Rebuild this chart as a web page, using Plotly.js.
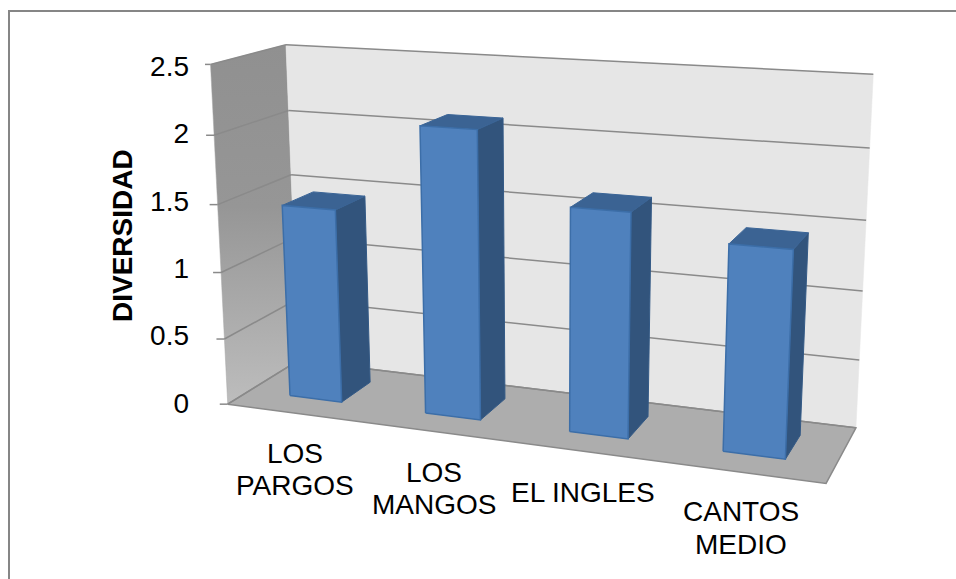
<!DOCTYPE html>
<html>
<head>
<meta charset="utf-8">
<script src="https://cdn.plot.ly/plotly-3.0.1.min.js"></script>
<style>html,body{margin:0;padding:0;background:#fff}#chart{width:956px;height:579px}</style>
</head>
<body>
<div id="chart"></div>
<script>
// Diversity index per site
const categories = ['LOS PARGOS', 'LOS MANGOS', 'EL INGLES', 'CANTOS MEDIO'];
const diversidad = [1.45, 2.1, 1.61, 1.45];
const tickValues = [0, 0.5, 1, 1.5, 2, 2.5];
const tickLabels = ['0', '0.5', '1', '1.5', '2', '2.5'];
const categoryLines = [['LOS', 'PARGOS'], ['LOS', 'MANGOS'], ['EL INGLES'], ['CANTOS', 'MEDIO']];

// Value axis scale: value 0 and 2.5 sit at these page rows
const Y0 = 403, YTOP = 66, WIDTH = 956, HEIGHT = 579, PLOT_LEFT = 205;
const pxPerUnit = (Y0 - YTOP) / 2.5;
const toValue = py => (Y0 - py) / pxPerUnit;

// Camera calibration: box positions [X, value, Z] and where they land on the page
const cameraAnchors = [
  [0, 0, 0, 228, 404], [1, 0, 0, 826, 484], [0, 0, 1, 298, 361], [1, 0, 1, 856, 427],
  [0, 2.5, 0, 210, 65], [0, 2.5, 1, 286, 45], [1, 2.5, 1, 873, 74],
  [0, 2, 1, 289, 110], [0, 1.5, 1, 291, 175], [1, 2, 1, 870, 148], [1, 1.5, 1, 866, 221],
  [1, 1, 1, 863, 291], [1, 0.5, 1, 859, 360], [0, 2, 0, 214, 135], [0, 1.5, 0, 218, 204]
];

function solve(M, r) {
  const n = r.length, m = M.map((row, i) => row.concat(r[i]));
  for (let i = 0; i < n; i++) {
    let p = i;
    for (let k = i + 1; k < n; k++) if (Math.abs(m[k][i]) > Math.abs(m[p][i])) p = k;
    [m[i], m[p]] = [m[p], m[i]];
    for (let k = 0; k < n; k++) {
      if (k === i) continue;
      const f = m[k][i] / m[i][i];
      for (let j = i; j <= n; j++) m[k][j] -= f * m[i][j];
    }
  }
  return m.map((row, i) => row[n] / row[i]);
}

// Least-squares fit of the 3x4 projection matrix (last entry fixed at 1)
function fitCamera(anchors) {
  const rows = [], rhs = [];
  anchors.forEach(([X, v, Z, u, w]) => {
    const Y = v / 2.5;
    rows.push([X, Y, Z, 1, 0, 0, 0, 0, -u * X, -u * Y, -u * Z]); rhs.push(u);
    rows.push([0, 0, 0, 0, X, Y, Z, 1, -w * X, -w * Y, -w * Z]); rhs.push(w);
  });
  const n = 11;
  const N = Array.from({ length: n }, (_, i) =>
    Array.from({ length: n }, (_, j) => rows.reduce((s, r) => s + r[i] * r[j], 0)));
  const b = Array.from({ length: n }, (_, i) => rows.reduce((s, r, k) => s + r[i] * rhs[k], 0));
  return solve(N, b);
}
const P = fitCamera(cameraAnchors);

// X: 0..1 across categories, v: axis value, Z: 0 front .. 1 back
function project(X, v, Z) {
  const Y = v / 2.5;
  const d = P[8] * X + P[9] * Y + P[10] * Z + 1;
  const px = (P[0] * X + P[1] * Y + P[2] * Z + P[3]) / d;
  const py = (P[4] * X + P[5] * Y + P[6] * Z + P[7]) / d;
  return [px, toValue(py)];
}

function poly(points, fill, line, width, gradient) {
  const pts = points.map(p => project(p[0], p[1], p[2]));
  pts.push(pts[0]);
  const t = {
    type: 'scatter', mode: 'lines', hoverinfo: 'skip', showlegend: false,
    x: pts.map(p => p[0]), y: pts.map(p => p[1]),
    fill: 'toself', fillcolor: fill,
    line: { color: line || fill, width: width === undefined ? 1 : width }
  };
  if (gradient) t.fillgradient = gradient;
  return t;
}
function segment(p, q, color, width) {
  const a = project(...p), b = project(...q);
  return {
    type: 'scatter', mode: 'lines', hoverinfo: 'skip', showlegend: false,
    x: [a[0], b[0]], y: [a[1], b[1]], line: { color, width }
  };
}

const traces = [];

// Walls and floor
traces.push(poly([[0, 0, 0], [0, 2.5, 0], [0, 2.5, 1], [0, 0, 1]], '#a6a6a6', '#a6a6a6', 0.5, {
  type: 'vertical', colorscale: [[0, '#bdbdbd'], [0.55, '#969696'], [1, '#909090']]
}));
traces.push(poly([[0, 0, 1], [0, 2.5, 1], [1, 2.5, 1], [1, 0, 1]], '#e6e6e6', '#e6e6e6', 0.5));
traces.push(poly([[0, 0, 0], [0, 0, 1], [1, 0, 1], [1, 0, 0]], '#adadad', '#8a8a8a', 1.5));

// Gridlines along the left wall and the back wall
tickValues.forEach(v => {
  traces.push(segment([0, v, 0], [0, v, 1], '#8a8a8a', 1.5));
  traces.push(segment([0, v, 1], [1, v, 1], '#8a8a8a', 1.5));
});

// Bars, drawn back to front by face
const BAR_W = 0.097, Z0 = 0.3, Z1 = 0.74;
diversidad.forEach((val, i) => {
  const xc = (i + 0.5) / categories.length, x0 = xc - BAR_W / 2, x1 = xc + BAR_W / 2;
  traces.push(poly([[x1, 0, Z0], [x1, val, Z0], [x1, val, Z1], [x1, 0, Z1]], '#32547c', '#345a86', 1));
  traces.push(poly([[x0, val, Z0], [x1, val, Z0], [x1, val, Z1], [x0, val, Z1]], '#3b6393', '#3a6496', 1));
  traces.push(poly([[x0, 0, Z0], [x0, val, Z0], [x1, val, Z0], [x1, 0, Z0]], '#4f81bd', '#3c6ea8', 1.5));
});

// Category labels, one annotation per printed line
const labelCentres = [295, 434, 583, 741];
const labelRows = [[453, 485], [472, 504], [492], [511, 544]];
const annotations = [];
categoryLines.forEach((lines, i) => {
  lines.forEach((text, j) => {
    annotations.push({
      text, x: labelCentres[i], y: toValue(labelRows[i][j]), xref: 'x', yref: 'y',
      showarrow: false, xanchor: 'center', yanchor: 'middle',
      font: { family: 'Liberation Sans, Arial, sans-serif', size: 28, color: '#000' }
    });
  });
});
// Value axis title
annotations.push({
  text: '<b>DIVERSIDAD</b>', textangle: -90,
  x: (122 - PLOT_LEFT) / (WIDTH - PLOT_LEFT), y: toValue(236), xref: 'paper', yref: 'y',
  showarrow: false, xanchor: 'center', yanchor: 'middle',
  font: { family: 'Liberation Sans, Arial, sans-serif', size: 28, color: '#000' }
});

// Frame: only its top and left edges fall on the page
const FRAME_X = 9, FRAME_Y = 11;
const paperX = px => (px - PLOT_LEFT) / (WIDTH - PLOT_LEFT);
const paperY = py => 1 - py / HEIGHT;
const frameLine = { color: '#868686', width: 2 };

const layout = {
  width: WIDTH, height: HEIGHT,
  margin: { l: PLOT_LEFT, r: 0, t: 0, b: 0 },
  paper_bgcolor: '#fff', plot_bgcolor: 'rgba(0,0,0,0)',
  showlegend: false,
  font: { family: 'Liberation Sans, Arial, sans-serif', color: '#000' },
  xaxis: { range: [PLOT_LEFT, WIDTH], visible: false, fixedrange: true },
  yaxis: {
    range: [toValue(HEIGHT), toValue(0)], fixedrange: true,
    tickmode: 'array', tickvals: tickValues, ticktext: tickLabels,
    tickfont: { size: 28, color: '#000' }, ticks: '', ticklen: 0, ticklabelstandoff: 15,
    showgrid: false, zeroline: false, showline: false
  },
  annotations,
  shapes: [
    { type: 'line', xref: 'paper', yref: 'paper', layer: 'below',
      x0: paperX(FRAME_X - 1), x1: 1, y0: paperY(FRAME_Y), y1: paperY(FRAME_Y), line: frameLine },
    { type: 'line', xref: 'paper', yref: 'paper', layer: 'below',
      x0: paperX(FRAME_X), x1: paperX(FRAME_X), y0: paperY(FRAME_Y), y1: 0, line: frameLine }
  ]
};

// Short tick marks left of the wall's front edge
tickValues.forEach(v => {
  const p = project(0, v, 0);
  traces.push({
    type: 'scatter', mode: 'lines', hoverinfo: 'skip', showlegend: false,
    x: [p[0] - 8, p[0]], y: [p[1], p[1]], line: { color: '#8a8a8a', width: 1.5 }
  });
});

Plotly.newPlot('chart', traces, layout, { displayModeBar: false, staticPlot: true });
</script>
</body>
</html>
